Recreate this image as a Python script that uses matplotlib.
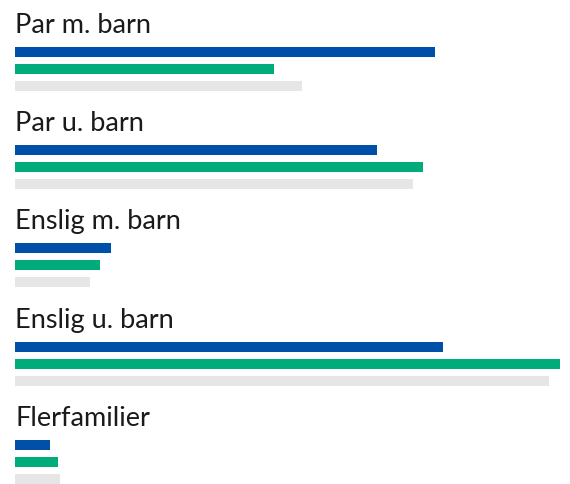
import numpy as np
import matplotlib.pyplot as plt

# data
categories = ["Par m. barn", "Par u. barn", "Enslig m. barn", "Enslig u. barn", "Flerfamilier"]
blue_vals = [420, 362, 96, 428, 35]
green_vals = [259, 408, 85, 545, 43]
gray_vals = [287, 398, 75, 534, 45]

colors = ["#0050AA", "#00AD7A", "#E6E6E6"]

W, H = 570, 484
pitch = 98.2  # px per group
fig = plt.figure(figsize=(W / 100, H / 100), dpi=100)
left = 15 / W
ax = fig.add_axes([left, 0, (560 - 15) / W, 1])

y = np.arange(len(categories))
step = 17 / pitch
h = 10 / pitch
for i, (vals, c) in enumerate(zip([blue_vals, green_vals, gray_vals], colors)):
    ax.barh(y + i * step, vals, height=h, color=c, align="center")

for g, name in zip(y, categories):
    ax.text(0, g - 19 / pitch, name, fontsize=19.5, family="Lato",
            color="#1a1a1a", ha="left", va="baseline")

top = -52 / pitch
ax.set_ylim(top + H / pitch, top)
ax.set_xlim(0, max(green_vals))
ax.axis("off")

fig.savefig("out.png", dpi=100)
